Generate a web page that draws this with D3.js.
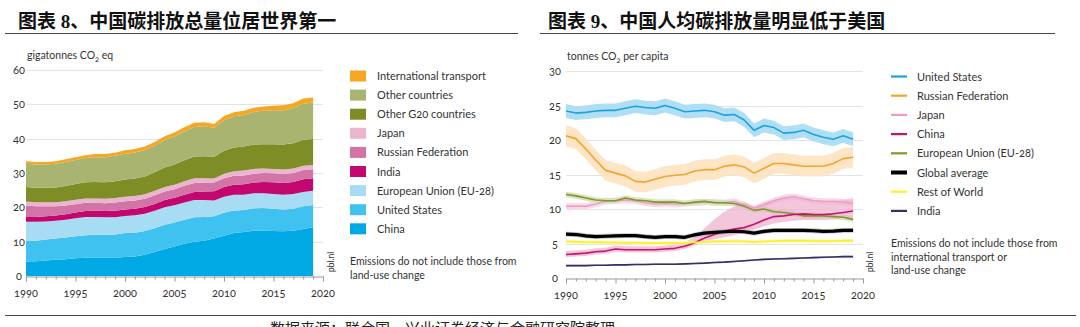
<!DOCTYPE html>
<html>
<head>
<meta charset="utf-8">
<script src="https://cdn.jsdelivr.net/npm/d3@7"></script>
<style>
  body { margin: 0; background: #fff; }
  svg { display: block; }
  .lbl { font-family: "Lato", "Open Sans", sans-serif; fill: #333; font-feature-settings: "onum"; }
  .ttl { font-family: "Liberation Serif", "Noto Sans CJK SC", serif; font-weight: 700; fill: #111; }
</style>
</head>
<body>
<svg id="chart" width="1080" height="327"></svg>
<script>
// ---- data ----
const years = [1990,1991,1992,1993,1994,1995,1996,1997,1998,1999,2000,2001,2002,2003,2004,
               2005,2006,2007,2008,2009,2010,2011,2012,2013,2014,2015,2016,2017,2018,2019];

// left: total emissions, gigatonnes CO2 eq (stack from bottom)
const china          = [4.2,4.3,4.5,4.7,4.9,5.2,5.3,5.3,5.3,5.3,5.5,5.7,6.2,7.0,7.9,8.6,9.4,10.0,10.3,10.9,11.7,12.5,12.8,13.2,13.2,13.1,13.0,13.2,13.7,14.2];
const unitedStates   = [6.0,6.0,6.1,6.2,6.3,6.4,6.6,6.7,6.7,6.8,7.0,6.9,6.9,6.9,7.0,7.0,7.0,7.1,6.9,6.5,6.7,6.6,6.4,6.5,6.6,6.5,6.4,6.4,6.6,6.5];
const euUnion        = [5.6,5.5,5.3,5.2,5.2,5.2,5.3,5.2,5.1,5.0,5.0,5.1,5.0,5.1,5.1,5.0,5.0,5.0,4.9,4.6,4.7,4.6,4.5,4.4,4.3,4.3,4.3,4.3,4.2,4.1];
const india          = [1.4,1.4,1.5,1.5,1.6,1.7,1.7,1.8,1.8,1.9,1.9,1.9,2.0,2.0,2.1,2.2,2.3,2.4,2.5,2.7,2.8,2.9,3.0,3.1,3.3,3.4,3.4,3.5,3.7,3.7];
const russia         = [3.3,3.1,2.9,2.7,2.5,2.4,2.4,2.3,2.3,2.4,2.4,2.4,2.4,2.5,2.5,2.5,2.6,2.6,2.6,2.5,2.6,2.6,2.6,2.6,2.6,2.6,2.6,2.6,2.7,2.6];
const japan          = [1.2,1.2,1.2,1.2,1.3,1.3,1.3,1.3,1.3,1.3,1.3,1.3,1.3,1.3,1.3,1.3,1.3,1.4,1.3,1.2,1.3,1.3,1.4,1.4,1.3,1.3,1.3,1.3,1.2,1.2];
const otherG20       = [4.2,4.2,4.2,4.3,4.4,4.6,4.7,4.8,4.8,4.9,5.0,5.1,5.2,5.4,5.7,5.9,6.1,6.3,6.4,6.3,6.7,6.9,7.0,7.1,7.1,7.2,7.3,7.4,7.6,7.6];
const otherCountries = [6.8,6.8,6.8,6.9,7.0,7.0,7.1,7.2,7.3,7.4,7.5,7.6,7.7,7.8,8.0,8.2,8.4,8.6,8.7,8.5,8.9,9.1,9.2,9.5,9.7,9.9,10.0,10.2,10.5,10.6];
const intlTransport  = [0.7,0.7,0.7,0.7,0.8,0.8,0.8,0.9,0.9,0.9,1.0,1.0,1.0,1.0,1.1,1.1,1.2,1.2,1.2,1.1,1.2,1.2,1.2,1.2,1.3,1.3,1.4,1.4,1.5,1.5];

const stackNames  = ["China","United States","European Union (EU-28)","India","Russian Federation","Japan","Other G20 countries","Other countries","International  transport"];
const stackSeries = [china, unitedStates, euUnion, india, russia, japan, otherG20, otherCountries, intlTransport];
const stackColors = ["#00a8e4","#3fc2ef","#a8dcf4","#c2076e","#d275a6","#ebb5d1","#7e8d25","#aab471","#f5a623"];

// right: tonnes CO2 per capita
const usPc     = [24.2,23.9,24.0,24.2,24.3,24.3,24.6,24.9,24.7,24.6,25.0,24.6,24.1,24.2,24.3,24.1,23.6,23.7,22.9,21.4,22.1,21.8,21.0,21.1,21.4,20.8,20.4,20.1,20.6,20.1];
const russiaPc = [20.6,20.2,18.7,17.1,15.6,15.2,14.8,14.0,13.9,14.3,14.7,14.9,15.0,15.5,15.7,15.7,16.2,16.4,16.1,15.2,15.9,16.6,16.6,16.4,16.2,16.2,16.2,16.6,17.3,17.5];
const japanPc  = [10.4,10.4,10.4,10.7,11.1,11.2,11.3,11.2,10.9,10.7,10.8,10.7,10.8,10.9,11.0,11.0,10.9,11.1,10.6,10.1,10.6,11.2,11.6,11.8,11.5,11.2,11.1,11.1,11.0,10.8];
const chinaPc  = [3.4,3.5,3.6,3.8,3.9,4.2,4.1,4.1,4.1,4.1,4.2,4.3,4.6,5.1,5.8,6.3,6.8,7.1,7.3,7.8,8.4,8.9,9.0,9.2,9.3,9.2,9.2,9.3,9.5,9.7];
const chinaLow = [3.0,3.1,3.2,3.4,3.5,3.8,3.7,3.7,3.7,3.7,3.8,3.9,4.2,4.7,5.2,5.6,5.9,6.2,6.5,7.0,7.5,7.9,8.1,8.3,8.4,8.4,8.4,8.5,8.7,8.8];
const chinaHigh= [3.9,4.0,4.1,4.3,4.4,4.7,4.6,4.6,4.6,4.6,4.7,4.9,5.2,5.9,7.2,8.5,9.6,10.4,11.0,10.3,10.9,11.3,11.6,11.8,11.6,11.3,11.2,11.2,11.3,11.6];
const euPc     = [12.1,11.9,11.6,11.3,11.2,11.2,11.6,11.3,11.2,11.0,11.0,11.0,10.8,11.0,11.1,10.9,10.9,10.8,10.4,9.8,10.0,9.6,9.5,9.3,9.0,9.0,9.0,8.9,8.8,8.5];
const globalPc = [6.35,6.3,6.1,6.0,6.05,6.1,6.15,6.15,6.0,5.9,6.0,6.0,5.9,6.25,6.5,6.6,6.7,6.8,6.7,6.5,6.75,6.9,6.9,6.9,6.9,6.85,6.75,6.8,6.9,6.9];
const restPc   = [5.3,5.25,5.2,5.2,5.15,5.15,5.1,5.1,5.05,5.05,5.05,5.05,5.1,5.15,5.2,5.3,5.3,5.35,5.3,5.2,5.3,5.35,5.4,5.4,5.4,5.35,5.35,5.35,5.4,5.4];
const indiaPc  = [1.8,1.8,1.8,1.85,1.85,1.9,1.9,1.95,1.95,2.0,2.0,2.0,2.05,2.1,2.15,2.25,2.3,2.4,2.5,2.6,2.7,2.75,2.8,2.85,2.9,2.95,3.0,3.05,3.1,3.1];

const pcNames  = ["United States","Russian Federation","Japan","China","European Union (EU-28)","Global average","Rest of World","India"];
const pcSeries = [usPc, russiaPc, japanPc, chinaPc, euPc, globalPc, restPc, indiaPc];
const pcSpread = [1.0, 1.5, 0.45, null, 0.4, 0.35, 0.25, 0.12];   // half width of uncertainty band
const pcLine   = ["#1aa3de","#f0a62b","#ea9cc4","#c4146e","#7c9a2c","#000000","#fff02a","#3c2c6c"];
const pcBand   = ["#a7dcf4","#fde2bf","#f7d3e4","#efb3d0","#d7e0b6","#9a9a9a","#fffab4","#b9b2cc"];
const pcWidth  = [1.6, 1.6, 1.4, 1.6, 1.6, 3.2, 1.8, 1.6];

const xTicks = [1990,1995,2000,2005,2010,2015,2020];

// ---- drawing ----
const svg = d3.select("#chart");

// titles & rules
svg.append("text").attr("class","ttl").attr("x",18).attr("y",28).attr("font-size",19)
  .text("图表 8、中国碳排放总量位居世界第一");
svg.append("text").attr("class","ttl").attr("x",548).attr("y",28).attr("font-size",19)
  .text("图表 9、中国人均碳排放量明显低于美国");
svg.append("line").attr("x1",5).attr("x2",518).attr("y1",33.5).attr("y2",33.5).attr("stroke","#444");
svg.append("line").attr("x1",540).attr("x2",1055).attr("y1",33.5).attr("y2",33.5).attr("stroke","#444");
svg.append("line").attr("x1",5).attr("x2",1076).attr("y1",315.5).attr("y2",315.5).attr("stroke","#444");
svg.append("text").attr("x",270).attr("y",334).attr("font-size",15)
  .attr("font-family","'Noto Sans CJK SC', sans-serif").attr("fill","#222")
  .text("数据来源：联合国，兴业证券经济与金融研究院整理");

function frame(g, x, y, yTicks, x0, unitText) {
  g.append("g").selectAll("line").data(yTicks.slice(1)).join("line")
    .attr("x1", x.range()[0]).attr("x2", x.range()[1])
    .attr("y1", d => Math.round(y(d)) + 0.5).attr("y2", d => Math.round(y(d)) + 0.5)
    .attr("stroke", "#e4e4e4");
  g.append("g").selectAll("text").data(yTicks).join("text")
    .attr("class","lbl").attr("font-size",11).attr("text-anchor","middle")
    .attr("x", x0).attr("y", d => y(d) + 4).text(d => d);
  const axis = d3.axisBottom(x).tickValues(d3.range(1990, 2021)).tickSize(3).tickFormat("");
  const ax = g.append("g").attr("transform", `translate(0,${Math.round(y(0)) + 0.5})`).call(axis);
  ax.select(".domain").attr("stroke","#999");
  ax.selectAll(".tick line").attr("stroke","#999").attr("y2", d => d % 5 === 0 ? 5 : 3);
  g.append("g").selectAll("text").data(xTicks).join("text")
    .attr("class","lbl").attr("font-size",11).attr("text-anchor","middle")
    .attr("x", d => x(d)).attr("y", y(0) + 21).text(d => d);
  const t = g.append("text").attr("class","lbl").attr("font-size",10.5)
    .attr("x", x.range()[0] + 1).attr("y", y.range()[1] - 11);
  t.append("tspan").text(unitText[0]);
  t.append("tspan").attr("font-size",7.5).attr("dy",3).text("2");
  t.append("tspan").attr("dy",-3).text(unitText[1]);
}

// ---- left: stacked areas ----
const xL = d3.scaleLinear().domain([1990, 2020]).range([26, 323]);
const yL = d3.scaleLinear().domain([0, 60]).range([276, 70]);
const gL = svg.append("g");
frame(gL, xL, yL, [0,10,20,30,40,50,60], 19, ["gigatonnes CO", " eq"]);

const rows = years.map((yr, i) => {
  const r = { year: yr };
  stackNames.forEach((n, k) => r[n] = stackSeries[k][i]);
  return r;
});
const stacked = d3.stack().keys(stackNames)(rows);
const area = d3.area().x(d => xL(d.data.year)).y0(d => yL(d[0])).y1(d => yL(d[1]));
gL.append("g").selectAll("path").data(stacked).join("path")
  .attr("fill", (d, i) => stackColors[i]).attr("d", area);

// left legend (top to bottom = stack reversed)
const legL = gL.append("g");
stackNames.slice().reverse().forEach((n, i) => {
  const c = stackColors[stackNames.length - 1 - i];
  legL.append("rect").attr("x",350).attr("y",70.5 + i * 19.1).attr("width",16).attr("height",11).attr("fill",c);
  legL.append("text").attr("class","lbl").attr("font-size",11).attr("x",377).attr("y",80 + i * 19.1).text(n);
});
legL.append("text").attr("class","lbl").attr("font-size",10.5).attr("x",350).attr("y",265).text("Emissions do not include those from");
legL.append("text").attr("class","lbl").attr("font-size",10.5).attr("x",350).attr("y",279).text("land-use change");
gL.append("text").attr("class","lbl").attr("font-size",8.5).attr("fill","#aaa")
  .attr("transform","translate(334,272) rotate(-90)").text("pbl.nl");

// ---- right: per capita lines with bands ----
const xR = d3.scaleLinear().domain([1990, 2020]).range([566, 863]);
const yR = d3.scaleLinear().domain([0, 30]).range([278, 71]);
const gR = svg.append("g");
frame(gR, xR, yR, [0,5,10,15,20,25,30], 555, ["tonnes CO", " per capita"]);

const band = d3.area().x(d => xR(d.year)).y0(d => yR(d.lo)).y1(d => yR(d.hi));
const line = d3.line().x(d => xR(d.year)).y(d => yR(d.v));
const drawOrder = [1, 0, 2, 4, 3, 6, 5, 7];
const bandsG = gR.append("g");
const linesG = gR.append("g");
drawOrder.forEach(k => {
  const pts = years.map((yr, i) => {
    const v = pcSeries[k][i];
    const lo = pcSpread[k] === null ? chinaLow[i] : v - pcSpread[k];
    const hi = pcSpread[k] === null ? chinaHigh[i] : v + pcSpread[k];
    return { year: yr, v, lo, hi };
  });
  bandsG.append("path").attr("d", band(pts)).attr("fill", pcBand[k])
    .attr("opacity", k === 3 ? 0.75 : (k === 5 ? 0.6 : 0.9));
  linesG.append("path").attr("d", line(pts)).attr("fill","none")
    .attr("stroke", pcLine[k]).attr("stroke-width", pcWidth[k]).attr("stroke-linejoin","round");
});

const legR = gR.append("g");
pcNames.forEach((n, k) => {
  const yy = 76.5 + k * 19.2;
  legR.append("line").attr("x1",891).attr("x2",907).attr("y1",yy).attr("y2",yy)
    .attr("stroke", pcLine[k]).attr("stroke-width", k === 5 ? 4 : 2.2);
  legR.append("text").attr("class","lbl").attr("font-size",11).attr("x",917).attr("y",yy + 4).text(n);
});
legR.append("text").attr("class","lbl").attr("font-size",10.5).attr("x",891).attr("y",247).text("Emissions do not include those from");
legR.append("text").attr("class","lbl").attr("font-size",10.5).attr("x",891).attr("y",260.5).text("international transport or");
legR.append("text").attr("class","lbl").attr("font-size",10.5).attr("x",891).attr("y",274).text("land-use change");
gR.append("text").attr("class","lbl").attr("font-size",8.5).attr("fill","#aaa")
  .attr("transform","translate(873,272) rotate(-90)").text("pbl.nl");
</script>
</body>
</html>
